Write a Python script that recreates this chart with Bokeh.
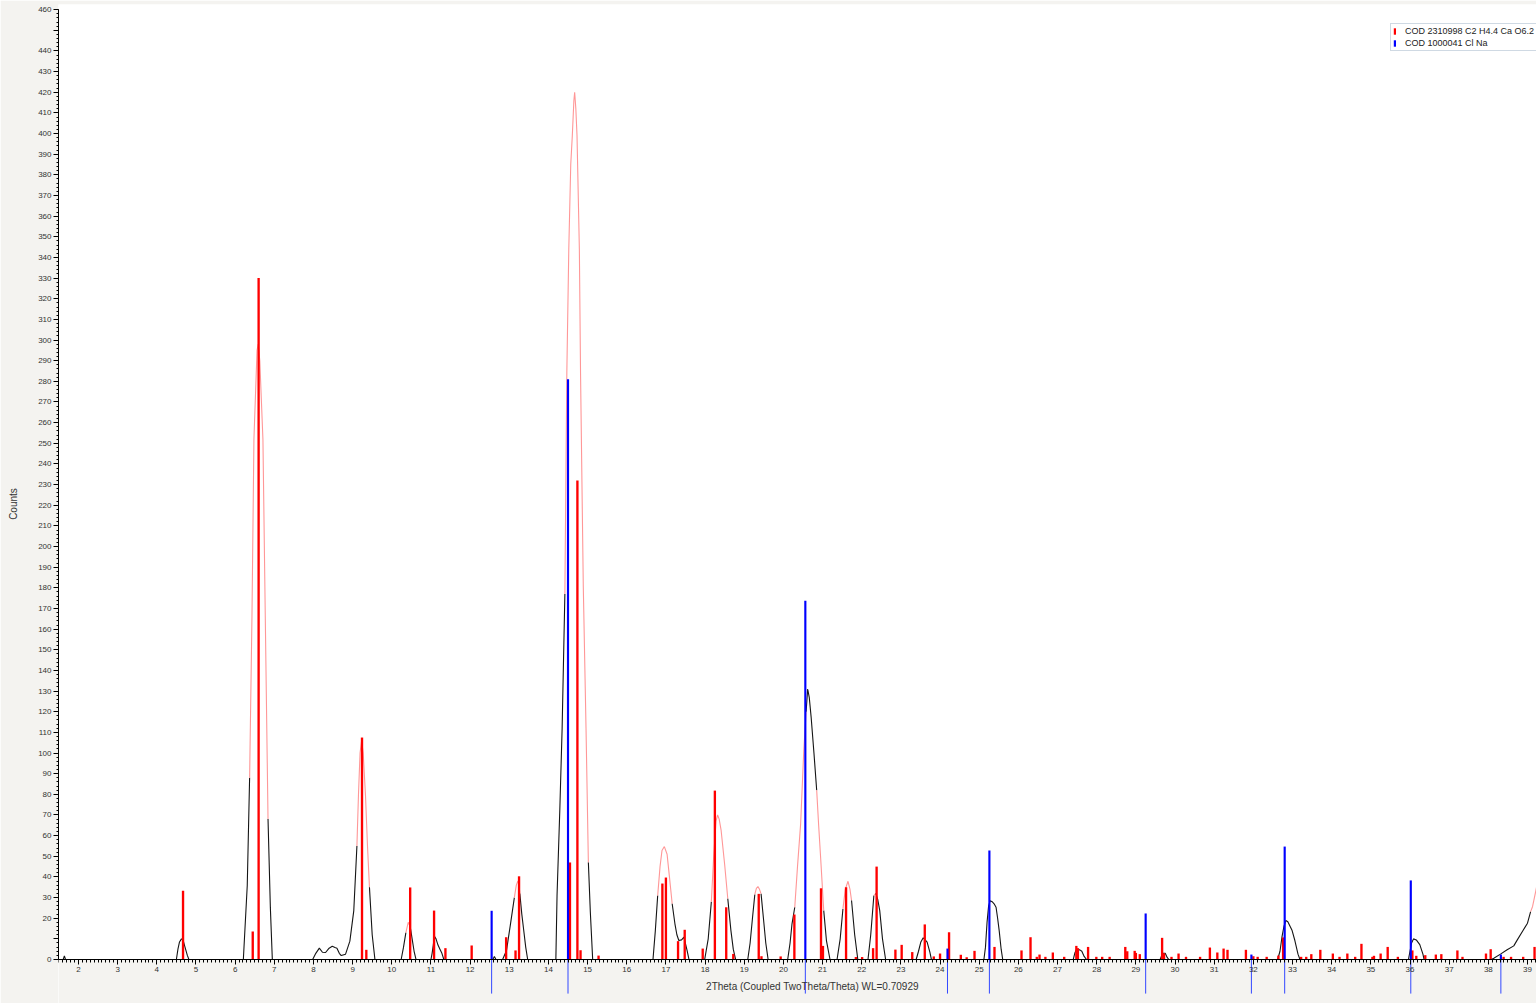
from bokeh.plotting import figure
from bokeh.models import (Range1d, FixedTicker, BoxAnnotation, Label, Legend,
                          LegendItem)
from bokeh.embed import file_html
from bokeh.resources import INLINE

# ---------------- data ----------------
# measured scan (2Theta, Counts)
scan_x = [1.55, 1.61, 1.64, 1.67,
          4.50, 4.54, 4.58, 4.63, 4.67, 4.72, 4.78, 4.82,
          6.21, 6.31, 6.37, 6.43, 6.48, 6.56, 6.59, 6.63, 6.71, 6.77, 6.84, 6.90, 6.95,
          7.98, 8.06, 8.15, 8.23, 8.31, 8.40, 8.48, 8.55, 8.60, 8.66, 8.71, 8.82, 8.93, 9.03,
          9.11, 9.15, 9.19, 9.23, 9.27, 9.33, 9.38, 9.43, 9.50, 9.57,
          10.24, 10.30, 10.36, 10.42, 10.47, 10.52, 10.57, 10.62,
          11.00, 11.03, 11.06, 11.09, 11.13, 11.18, 11.23, 11.28, 11.33,
          12.58, 12.62, 12.66,
          12.83, 12.93, 13.03, 13.13, 13.18, 13.22, 13.25, 13.27, 13.32, 13.36, 13.42, 13.47,
          14.19, 14.22, 14.29, 14.35, 14.42, 14.47, 14.52, 14.57, 14.61, 14.65, 14.67, 14.70,
          14.73, 14.79, 14.82, 14.89, 14.96, 15.02, 15.07, 15.13,
          16.67, 16.73, 16.79, 16.85, 16.90, 16.96, 17.03, 17.09, 17.16, 17.23, 17.28, 17.33,
          17.40, 17.46, 17.54, 17.59,
          17.99, 18.08, 18.16, 18.22, 18.28, 18.32, 18.36, 18.41, 18.50, 18.58, 18.66, 18.72, 18.78,
          19.09, 19.15, 19.21, 19.27, 19.31, 19.35, 19.39, 19.43, 19.49, 19.55, 19.61,
          20.11, 20.17, 20.22, 20.29, 20.36, 20.44, 20.52, 20.58, 20.62, 20.66, 20.71, 20.78,
          20.85, 20.90, 20.95, 21.03, 21.10, 21.19,
          21.37, 21.45, 21.52, 21.58, 21.65, 21.70, 21.74, 21.82, 21.90,
          22.16, 22.23, 22.31, 22.36, 22.41, 22.46, 22.53, 22.61,
          23.39, 23.45, 23.51, 23.57, 23.62, 23.67, 23.74, 23.78,
          25.12, 25.16, 25.20, 25.24, 25.28, 25.33, 25.38, 25.43, 25.47, 25.51, 25.56, 25.60,
          27.40, 27.44, 27.48, 27.52, 27.56, 27.62, 27.68, 27.74,
          29.62, 29.66, 29.70, 29.75, 29.80, 29.84,
          32.62, 32.68, 32.73, 32.78, 32.83, 32.88, 32.94, 32.99, 33.06, 33.14, 33.19,
          35.96, 36.00, 36.04, 36.09, 36.16, 36.25, 36.33, 36.36,
          38.08, 38.14, 38.31, 38.48, 38.65, 38.74, 38.87, 39.00, 39.08, 39.13, 39.21, 39.26]
scan_y = [0, 0, 1.8, 0,
          0, 5, 8.5, 10, 9.5, 6, 2, 0,
          0, 36, 88, 166, 252, 295, 298, 290, 252, 166, 68, 25, 0,
          0, 3, 5.5, 3.5, 3.4, 5.5, 6.4, 5.8, 5.5, 3, 1.9, 2.6, 8.9, 23.7,
          55, 80, 100, 106, 100, 79, 55, 35, 12, 0,
          0, 6, 13, 18, 16, 10, 4, 0,
          0, 3, 7, 11.3, 10, 7, 5, 3, 0,
          0, 1.5, 0,
          0, 4.4, 17, 30, 36, 38, 36, 32, 22, 15.6, 6, 0,
          0, 31, 72, 112, 177, 284, 344, 385, 399, 416, 420, 412,
          399, 344, 284, 181, 112, 47, 23, 0,
          0, 14, 31, 45, 52.8, 54.7, 51, 40, 27, 17.3, 12, 9.2,
          9.5, 10.8, 4.4, 0,
          0, 10, 28, 50, 67, 70, 68, 62.5, 46, 29.4, 14, 5, 0,
          0, 8, 20, 31.5, 34.5, 35.3, 34, 31.8, 20, 8, 0,
          0, 8, 17.3, 25.3, 45, 65.7, 101, 120, 131, 127, 117, 100,
          82, 65, 49.5, 23.7, 9, 0,
          0, 10, 24.5, 34, 37.9, 34, 28.6, 12, 0,
          0, 12, 31, 32, 29, 23.7, 10, 0,
          0, 4, 8.5, 10.5, 9.5, 8.4, 3.6, 0,
          0, 6, 18, 26, 28.5, 28, 27, 25.3, 20, 14, 5, 0,
          0, 3, 4.8, 4.2, 4.8, 4, 1.5, 0,
          0, 2, 3, 3, 1, 0,
          0, 4, 10.8, 16, 18.9, 18.3, 16, 14, 9.2, 2.6, 0,
          0, 4, 8, 10, 9.5, 7.2, 2.6, 0,
          0, 0.6, 2.6, 4.7, 6.6, 9.5, 13.6, 17.6, 23.2, 25.7, 33, 38]

# 2Theta intervals where the scan is shown highlighted (light red)
highlight_ranges = [(6.37, 6.84), (9.12, 9.43), (10.36, 10.46), (13.13, 13.27),
                    (14.42, 15.02), (16.79, 17.16), (18.16, 18.58), (19.27, 19.43),
                    (20.29, 20.58), (20.85, 21.03), (21.52, 21.74), (22.30, 22.38),
                    (39.10, 39.40)]

# COD 2310998 (red sticks)
red_pos = [4.67, 6.45, 6.60, 9.24, 9.35, 10.47, 11.08, 11.37, 12.04, 12.92, 13.16, 13.25,
           14.55, 14.74, 14.82, 15.28, 16.91, 17.00, 17.31, 17.48, 17.94, 18.25, 18.54, 18.72,
           19.37, 19.44, 19.93, 20.28, 20.96, 21.01, 21.60, 21.85, 22.01, 22.29, 22.38, 22.86,
           23.02, 23.29, 23.61, 23.84, 24.00, 24.23, 24.53, 24.68, 24.88, 25.39, 26.08, 26.31,
           26.47, 26.54, 26.69, 26.88, 27.17, 27.48, 27.52, 27.78, 27.99, 28.14, 28.33, 28.73,
           28.78, 28.97, 29.00, 29.10, 29.67, 29.72, 29.91, 30.09, 30.28, 30.64, 30.89, 31.08,
           31.24, 31.34, 31.81, 32.00, 32.11, 32.34, 32.64, 32.76, 33.22, 33.35, 33.48, 33.71,
           34.03, 34.20, 34.40, 34.60, 34.76, 35.04, 35.08, 35.25, 35.43, 35.69, 36.06, 36.16,
           36.39, 36.66, 36.80, 37.21, 37.34, 37.94, 38.06, 38.39, 38.58, 38.89, 39.18]
red_int = [33.3, 13.6, 330, 107.5, 4.7, 34.9, 23.7, 5.5, 6.8, 10.8, 4.4, 40.3,
           47, 232, 4.5, 1.9, 36.8, 39.7, 8.9, 14.4, 5.3, 81.8, 25.3, 2.7,
           31.8, 1.6, 1.5, 21.8, 34.5, 6.6, 35, 1.2, 1.2, 5.5, 45, 4.8,
           7.1, 3.6, 17.0, 1.5, 2.9, 13.2, 2.3, 1.1, 4.2, 6.1, 4.4, 10.8,
           1.3, 2.4, 1.3, 3.4, 1.3, 6.6, 5.5, 6.1, 1.3, 1.3, 1.3, 6.1,
           4.0, 4.2, 3.2, 2.6, 10.5, 3.0, 1.3, 2.9, 1.3, 1.3, 5.8, 3.4,
           5.3, 4.7, 4.7, 1.6, 1.3, 1.3, 1.9, 10.7, 1.3, 1.3, 2.6, 4.7,
           2.9, 1.3, 2.9, 1.3, 7.6, 1.3, 1.8, 2.9, 6.1, 1.3, 4.4, 1.8,
           2.1, 2.4, 2.6, 4.4, 1.3, 2.9, 5.0, 1.3, 1.3, 1.3, 6.1]

# COD 1000041 Cl Na (blue sticks)
blue_pos = [12.55, 14.50, 20.56, 24.19, 25.26, 29.25, 31.95, 32.80, 36.02, 38.32]
blue_int = [23.6, 281, 173.8, 5.3, 52.8, 22.3, 2.4, 54.7, 38.3, 2.4]

phase_labels = ["COD 2310998 C2 H4.4 Ca O6.2", "COD 1000041 Cl Na"]
x_title = "2Theta (Coupled TwoTheta/Theta) WL=0.70929"
y_title = "Counts"
x_major_ticks = list(range(2, 40))
y_major_ticks = list(range(0, 461, 10))
y_hidden_labels = [10, 450]

# ---------------- styling constants ----------------
GRAY = "#f4f3f0"
FONT = "Liberation Sans"
X_MIN, X_MAX = 1.49, 39.23
Y_MIN, Y_MAX = -21.3, 462.5
STICK_FOOT = -16.5

p = figure(width=1536, height=1003, x_range=Range1d(X_MIN, X_MAX),
           y_range=Range1d(Y_MIN, Y_MAX), output_backend="svg",
           toolbar_location=None, title=None,
           min_border_left=58, min_border_right=0, min_border_top=4, min_border_bottom=0,
           background_fill_color="white", border_fill_color=GRAY,
           outline_line_color=None)
p.xgrid.visible = False
p.ygrid.visible = False

# gray region below the zero line
p.add_layout(BoxAnnotation(top=0, fill_color=GRAY, fill_alpha=1.0,
                           line_color=None, level="underlay"))

# scan, split into black and highlighted runs
def in_hl(xm):
    return any(a <= xm <= b for a, b in highlight_ranges)

runs_x, runs_y, runs_c = [], [], []
cur_x, cur_y, cur_flag = [scan_x[0]], [scan_y[0]], None
for i in range(len(scan_x) - 1):
    flag = in_hl(0.5 * (scan_x[i] + scan_x[i + 1]))
    if cur_flag is None:
        cur_flag = flag
    if flag != cur_flag:
        runs_x.append(cur_x); runs_y.append(cur_y)
        runs_c.append("#ff9797" if cur_flag else "#151515")
        cur_x, cur_y, cur_flag = [scan_x[i]], [scan_y[i]], flag
    cur_x.append(scan_x[i + 1]); cur_y.append(scan_y[i + 1])
runs_x.append(cur_x); runs_y.append(cur_y)
runs_c.append("#ff9797" if cur_flag else "#151515")
p.multi_line(xs=runs_x, ys=runs_y, line_color=runs_c, line_width=1.1)

# reference sticks
red_r = p.vbar(x=red_pos, top=red_int, bottom=0, width=0.06,
               fill_color="#ff0000", line_color=None)
p.segment(x0=blue_pos, y0=[STICK_FOOT] * len(blue_pos), x1=blue_pos,
          y1=[0] * len(blue_pos), line_color="#3348ff", line_width=1)
blue_r = p.vbar(x=blue_pos, top=blue_int, bottom=0, width=0.055,
                fill_color="#0000ff", line_color=None)

# axes
xa = p.xaxis[0]
xa.fixed_location = 0
xa.bounds = (X_MIN, X_MAX)
minor_x = [round(1.5 + 0.1 * i, 2) for i in range(378)]
xa.ticker = FixedTicker(ticks=x_major_ticks, minor_ticks=minor_x)
xa.major_tick_out = 5
xa.major_tick_in = 0
xa.minor_tick_out = 3
xa.minor_tick_in = 0
xa.major_label_standoff = 2
xa.major_label_text_font = FONT
xa.major_label_text_font_size = "8px"
xa.major_label_text_color = "#333333"
xa.axis_line_color = "black"

ya = p.yaxis[0]
ya.bounds = (0, 460)
ya.ticker = FixedTicker(ticks=y_major_ticks, minor_ticks=list(range(0, 461, 2)))
ya.major_label_overrides = {v: "" for v in y_hidden_labels}
ya.major_tick_out = 5
ya.major_tick_in = 0
ya.minor_tick_out = 2
ya.minor_tick_in = 0
ya.major_label_standoff = 2
ya.major_label_text_font = FONT
ya.major_label_text_font_size = "8px"
ya.major_label_text_color = "#333333"
ya.axis_label = y_title
ya.axis_label_text_font = FONT
ya.axis_label_text_font_size = "10px"
ya.axis_label_text_font_style = "normal"
ya.axis_label_text_color = "#333333"
ya.axis_label_standoff = 16

p.add_layout(Label(x=20.74, y=-13.3, text=x_title, text_align="center",
                   text_baseline="middle", text_font=FONT, text_font_size="10px",
                   text_color="#333333"))

legend = Legend(items=[LegendItem(label=phase_labels[0], renderers=[red_r]),
                       LegendItem(label=phase_labels[1], renderers=[blue_r])],
                location=(1332, 952), orientation="vertical", padding=2, spacing=2,
                margin=0, glyph_width=3, glyph_height=8, label_height=10,
                label_standoff=9, label_text_font=FONT, label_text_font_size="9px",
                label_text_color="#222222", border_line_color="#9fb3c8",
                border_line_width=1, background_fill_color="white",
                background_fill_alpha=1.0)
p.add_layout(legend)

open("out.html", "w").write(file_html(p, INLINE))
